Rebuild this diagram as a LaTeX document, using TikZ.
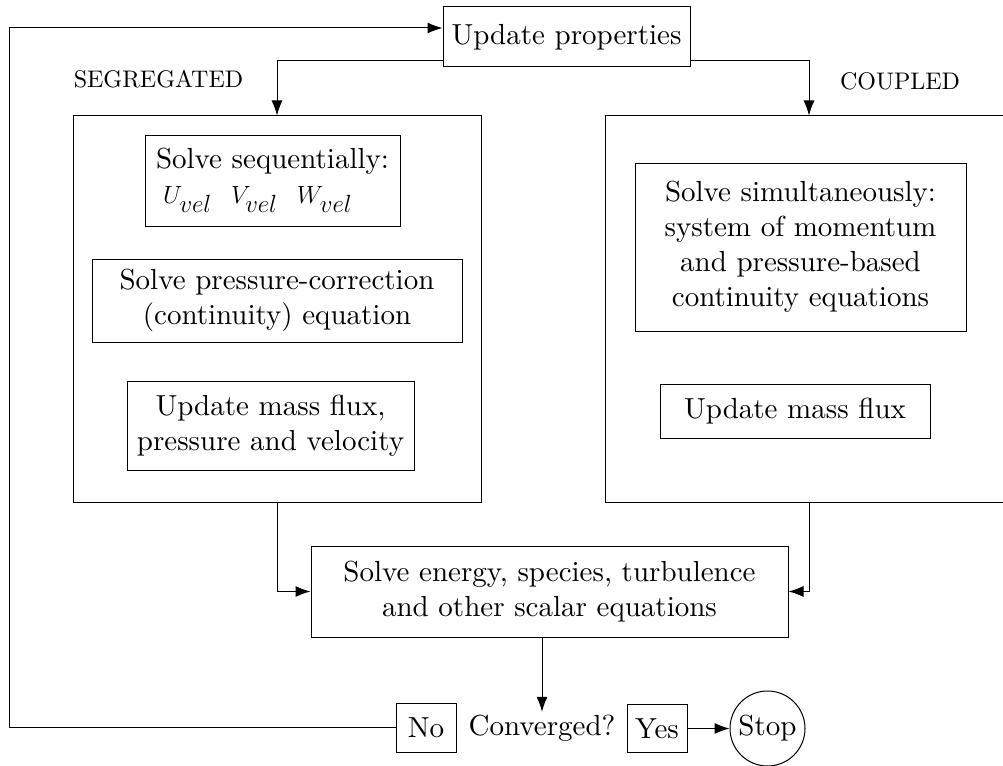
\documentclass[tikz,border=0pt]{standalone}
\usepackage{fontspec}
\setmainfont{lmroman10-regular.otf}[ItalicFont=lmroman10-italic.otf, BoldFont=lmroman10-bold.otf]
\DeclareMathSizes{29}{31}{23}{16}
\usetikzlibrary{arrows.meta}
\begin{document}
\begin{tikzpicture}[x=1pt,y=-1pt,
  font=\fontsize{29}{35}\selectfont,
  box/.style={draw, line width=1pt, inner sep=0pt, align=center},
  lab/.style={font=\fontsize{24}{29}\selectfont, inner sep=0pt},
  arr/.style={-{Latex[length=15pt,width=11pt]}, line width=1pt},
  ln/.style={line width=1pt}]
\useasboundingbox (0,0) rectangle (1003,765);
% top
\node[box, minimum width=247pt, minimum height=60pt] (up) at (566.5,37) {Update properties};
\node[lab] (seglab) at (158.5,79) {SEGREGATED};
\node[lab] (cpllab) at (900,81) {COUPLED};
% big boxes
\node[box, minimum width=408pt, minimum height=386pt] (seg) at (277,309) {};
\node[box, minimum width=408pt, minimum height=386pt] (cpl) at (809,309) {};
% segregated inner
\node[box, minimum width=255pt, minimum height=91pt, align=left] (seq) at (272.5,180.5)
  {Solve sequentially:\\\hspace*{7pt}$U_{vel}$\ \ $V_{vel}$\ \ $W_{vel}$};
\node[box, minimum width=370pt, minimum height=83pt] (pc) at (277,300.5)
  {Solve pressure-correction\\(continuity) equation};
\node[box, minimum width=287pt, minimum height=89pt] (umfs) at (270.5,426)
  {Update mass flux,\\pressure and velocity};
% coupled inner
\node[box, minimum width=331pt, minimum height=168pt] (sim) at (800.5,247)
  {Solve simultaneously:\\system of momentum\\and pressure-based\\continuity equations};
\node[box, minimum width=270pt, minimum height=54pt] (umfc) at (795,411) {Update mass flux};
% energy
\node[box, minimum width=477pt, minimum height=91pt] (en) at (549.5,591.5)
  {Solve energy, species, turbulence\\and other scalar equations};
% bottom row
\node[inner sep=0pt, minimum height=32pt] (conv) at (542,728) {Converged?};
\node[box, minimum width=60pt, minimum height=49pt] (no) at (426,727.5) {No};
\node[box, minimum width=60pt, minimum height=48pt] (yes) at (657,728.5) {Yes};
\node[draw, circle, line width=1pt, inner sep=0pt, minimum size=75pt] (stop) at (767.5,728.5) {Stop};
% connectors
\coordinate (lc) at (9,727.5);
\coordinate (tc) at (9,28);
\draw[arr] (no.west) -- (lc) -- (tc) -- (tc -| up.west);
\draw[arr] ([yshift=-24pt]up.west) -| (seg.north);
\draw[arr] ([yshift=-24pt]up.east) -| (cpl.north);
\draw[arr] (seg.south) |- (en.west);
\draw[arr] (cpl.south) |- (en.east);
\draw[arr] (en.south -| conv.north) -- (conv.north);
\draw[arr] (yes.east) -- (stop.west);
\end{tikzpicture}
\end{document}
